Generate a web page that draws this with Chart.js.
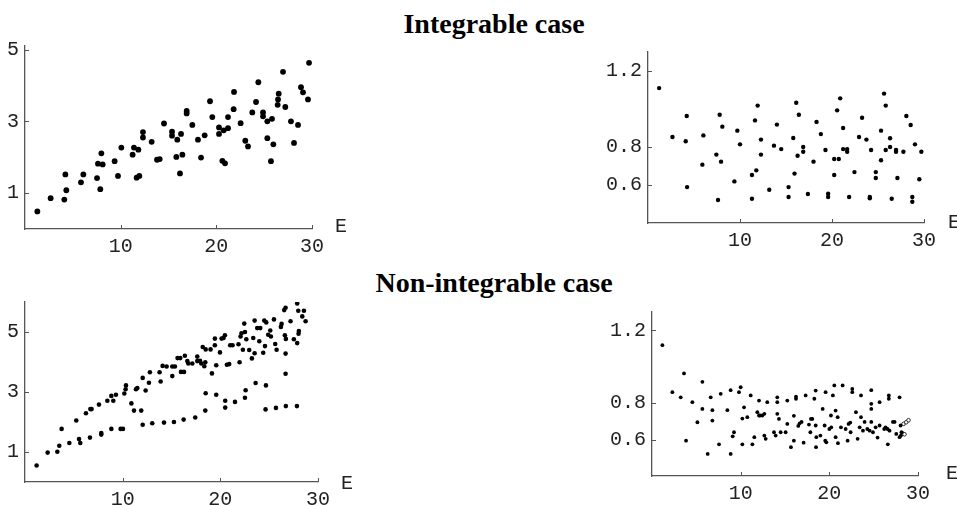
<!DOCTYPE html>
<html>
<head>
<meta charset="utf-8">
<script src="https://cdn.jsdelivr.net/npm/chart.js@4.4.1/dist/chart.umd.min.js"></script>
<style>
  html, body { margin: 0; padding: 0; background: #fff; width: 957px; height: 505px; overflow: hidden; position: relative; }
  canvas { position: absolute; }
  .title { position: absolute; left: 0; width: 988px; text-align: center; font: bold 28px "Liberation Serif", "Times New Roman", serif; line-height: 28px; color: #000; }
</style>
</head>
<body>
<div class="title" style="top:10px">Integrable case</div>
<div class="title" style="top:269px">Non-integrable case</div>
<canvas id="c-int-left"></canvas>
<canvas id="c-int-right"></canvas>
<canvas id="c-non-left"></canvas>
<canvas id="c-non-right"></canvas>
<script>
// axis ticks
const xTicks = [10, 20, 30];
const yTicksLeft = [1, 3, 5];
const yTicksRight = [0.6, 0.8, 1.2];

// Integrable case, left panel  [E, value]
const intLeft = [
  [1.29,0.49],[2.68,0.86],[4.11,0.82],[4.22,1.52],[4.32,1.08],[5.85,1.30],[6.10,1.52],[7.53,1.42],
  [7.63,1.82],[7.87,1.11],[7.98,2.11],[8.12,1.80],[9.37,1.89],[9.72,1.48],[10.07,2.27],[11.25,2.07],
  [11.39,2.27],[11.67,1.43],[11.85,2.21],[11.95,1.48],[12.33,2.70],[12.33,2.55],[13.24,2.43],[13.80,1.93],
  [14.08,1.95],[14.53,2.94],[15.37,2.71],[15.37,2.60],[15.82,2.01],[15.92,2.49],[16.20,1.55],[16.31,2.65],
  [16.45,2.07],[16.90,3.29],[16.90,3.22],[17.49,2.90],[18.08,2.49],[18.40,1.99],[18.78,2.61],[19.34,3.56],
  [19.58,3.12],[20.28,2.83],[20.28,2.65],[20.63,1.90],[20.77,2.75],[20.91,1.83],[21.22,2.81],[21.22,3.12],
  [21.81,3.34],[21.85,3.82],[22.54,2.95],[23.03,2.46],[23.31,2.30],[23.76,3.25],[24.15,3.54],[24.39,4.09],
  [24.88,3.25],[24.88,3.14],[25.33,3.00],[25.33,2.53],[25.71,1.89],[25.82,3.07],[25.96,2.36],[26.41,3.46],
  [26.45,3.61],[26.52,3.77],[26.97,4.38],[27.21,3.40],[27.80,3.00],[28.12,2.40],[28.54,2.90],[28.85,3.95],
  [29.06,3.81],[29.58,3.61],[29.69,4.63]
];

// Integrable case, right panel
const intRight = [
  [1.21,1.11],[2.66,0.853],[4.10,0.830],[4.21,0.963],[4.25,0.589],[5.91,0.707],[6.02,0.861],[7.43,0.760],
  [7.61,0.521],[7.79,0.970],[7.94,0.723],[8.08,0.907],[9.39,0.619],[9.71,0.886],[10.00,0.814],[11.30,0.528],
  [11.30,0.653],[11.63,0.940],[11.77,0.677],[11.92,1.018],[12.28,0.839],[12.28,0.760],[13.18,0.575],[13.69,0.807],
  [14.01,0.918],[14.48,0.789],[15.28,0.589],[15.28,0.537],[15.79,0.847],[15.93,0.660],[16.11,1.033],[16.26,0.754],
  [16.40,0.970],[16.87,0.800],[16.87,0.775],[17.38,0.553],[17.99,0.723],[18.32,0.932],[18.79,0.868],[19.29,0.784],
  [19.58,0.554],[19.58,0.537],[20.24,0.737],[20.24,0.653],[20.56,0.993],[20.74,0.737],[20.89,1.056],[21.21,0.900],
  [21.21,0.789],[21.65,0.789],[21.65,0.775],[21.86,0.537],[22.44,0.668],[22.94,0.853],[23.27,0.954],[23.74,0.839],
  [24.25,0.784],[24.11,0.537],[24.11,0.530],[24.76,0.668],[24.76,0.637],[25.33,0.886],[25.33,0.730],[25.66,1.081],
  [25.84,1.018],[25.84,0.784],[26.31,0.846],[26.31,0.800],[26.49,0.528],[26.96,0.784],[26.96,0.775],[27.11,0.637],
  [27.76,0.775],[28.08,0.963],[28.55,0.916],[28.73,0.537],[28.73,0.512],[29.02,0.814],[29.49,0.630],[29.71,0.775]
];

// Non-integrable case, left panel
const nonLeft = [
  [1.19,0.55],[2.32,0.98],[3.31,1.01],[3.51,1.21],[3.75,1.77],[4.54,1.30],[5.25,2.05],[5.53,1.43],
  [5.66,1.30],[6.24,2.29],[6.69,2.43],[6.82,2.43],[6.65,1.48],[7.57,2.58],[7.81,1.63],[7.81,1.58],
  [8.43,2.71],[8.84,2.87],[9.04,2.71],[8.84,1.77],[9.31,2.91],[9.79,1.77],[10.03,1.77],[10.17,2.95],
  [10.30,3.09],[10.34,3.22],[10.89,2.62],[11.16,2.38],[11.36,3.09],[11.50,3.13],[11.90,2.38],[12.05,1.91],
  [12.05,3.47],[12.35,3.05],[12.69,3.31],[12.79,3.66],[13.03,1.96],[13.78,3.66],[13.89,3.35],[14.09,3.87],
  [14.23,1.98],
  [14.50,3.85],[15.08,3.85],[15.35,3.85],[15.08,3.53],[15.97,3.67],[16.28,3.67],[15.62,4.13],[15.90,4.13],
  [16.37,4.21],[16.62,4.03],[16.72,3.95],[17.13,3.95],[17.64,4.18],[17.64,4.03],[17.92,4.04],[18.05,3.95],
  [18.36,3.86],[18.46,3.99],[18.20,4.50],[18.50,4.42],[19.00,4.42],[19.44,4.56],[19.44,4.78],[19.14,3.62],
  [19.58,3.89],[19.96,4.32],[20.13,4.78],[20.33,4.80],[20.47,4.89],[20.67,3.91],[20.91,3.93],[21.01,4.56],
  [21.25,4.56],[21.86,4.59],[21.97,3.99],[22.07,4.85],[22.17,4.96],[22.31,4.41],[22.45,5.28],[22.52,5.00],
  [22.66,4.76],[22.96,4.40],[23.23,4.12],[23.37,4.80],[23.51,4.29],[23.51,5.38],[23.78,5.13],[24.09,5.13],
  [23.99,4.69],[24.39,4.31],[24.57,4.53],[24.50,5.38],[24.70,5.32],[24.90,4.91],[25.18,4.85],[25.11,5.05],
  [25.49,5.42],[25.62,4.60],[25.76,4.41],[26.27,5.27],[26.20,5.17],[26.54,5.73],[26.68,5.81],[26.61,4.89],
  [26.71,4.77],[26.68,4.28],[26.68,3.61],[27.19,5.36],[27.53,4.76],[27.87,4.63],[27.87,5.95],[28.04,5.03],
  [28.01,4.94],[27.98,5.71],[28.39,5.52],[28.56,5.71],[28.73,5.36],
  [15.25,2.00],[16.24,2.08],[17.43,2.15],[18.46,2.38],[18.50,2.96],[19.58,2.91],[20.50,2.71],[20.50,2.48],
  [21.50,2.67],[22.52,2.81],[22.59,3.06],[23.61,3.30],[24.67,3.22],[24.63,2.42],[25.69,2.47],[26.71,2.53],
  [27.84,2.53]
];

// Non-integrable case, right panel
const nonRight = [
  [1.17,1.118],[2.30,0.860],[3.24,0.832],[3.61,0.963],[3.84,0.594],[4.55,0.805],[5.12,0.695],[5.68,0.917],
  [5.68,0.768],[6.28,0.521],[6.62,0.832],[6.81,0.761],[6.81,0.704],[7.56,0.574],[7.75,0.851],[8.50,0.761],
  [8.87,0.871],[8.87,0.521],[9.10,0.618],[9.25,0.640],[9.81,0.860],[10.00,0.887],[10.19,0.715],[10.19,0.574],
  [10.38,0.777],[10.75,0.723],[11.13,0.842],[11.32,0.574],[11.54,0.613],[11.88,0.750],[12.07,0.814],[12.07,0.732],
  [12.18,0.732],[12.44,0.732],[12.67,0.741],[12.67,0.622],[12.82,0.604],[13.00,0.805],[13.76,0.640],[13.95,0.622],
  [14.13,0.832],[14.13,0.805],[14.13,0.741],[14.32,0.713],[14.51,0.640],[15.07,0.640],[15.26,0.814],[15.26,0.686],
  [15.67,0.558],[16.00,0.730],[16.00,0.594],[16.24,0.835],[16.24,0.824],[16.50,0.675],[16.65,0.689],[16.87,0.697],
  [17.10,0.583],[17.33,0.842],[17.70,0.682],[17.86,0.640],[17.93,0.713],[18.08,0.713],[18.31,0.824],[18.46,0.869],
  [18.46,0.677],[18.50,0.558],[18.53,0.613],[18.99,0.622],[19.25,0.768],[19.47,0.677],[19.58,0.860],[19.54,0.594],
  [19.66,0.585],[20.00,0.658],[20.18,0.732],[20.22,0.667],[20.40,0.842],[20.56,0.897],[20.71,0.759],[20.71,0.613],
  [20.94,0.723],[20.97,0.580],[21.31,0.667],[21.50,0.897],[21.84,0.658],[22.06,0.594],[22.17,0.686],[22.36,0.693],
  [22.40,0.640],[22.59,0.878],[22.59,0.860],[23.00,0.750],[23.19,0.604],[23.42,0.667],[23.57,0.842],[23.57,0.723],
  [23.79,0.649],[23.98,0.697],[24.28,0.658],[24.54,0.649],[24.73,0.871],[24.73,0.796],[24.73,0.768],[24.73,0.697],
  [24.92,0.640],[25.22,0.667],[25.44,0.611],[25.67,0.805],[25.67,0.677],[26.19,0.658],[26.34,0.667],[26.57,0.658],
  [26.60,0.574],[26.71,0.842],[26.71,0.824],[26.79,0.649],[27.17,0.697],[27.36,0.697],[27.55,0.631],[27.92,0.832],
  [27.92,0.613],[28.03,0.677],[28.14,0.640],[28.07,0.622]
];
// the few open circles at the end of the right panel
const nonRightOpen = [[28.37,0.686],[28.67,0.695],[28.93,0.706],[28.26,0.634],[28.48,0.629]];

const axisColor = '#555';
const labelFont = { family: '"Liberation Mono", "DejaVu Sans Mono", monospace', size: 20 };

// inward tick marks and the "E" axis label
const axisDecor = {
  id: 'axisDecor',
  afterDraw(chart, args, opts) {
    const { ctx, chartArea: a, scales: { x, y } } = chart;
    ctx.save();
    ctx.strokeStyle = axisColor;
    ctx.lineWidth = 1;
    ctx.beginPath();
    x.ticks.forEach(t => {
      const px = Math.round(x.getPixelForValue(t.value)) + 0.5;
      ctx.moveTo(px, a.bottom);
      ctx.lineTo(px, a.bottom - 4);
    });
    y.ticks.forEach(t => {
      const py = Math.round(y.getPixelForValue(t.value)) + 0.5;
      ctx.moveTo(a.left, py);
      ctx.lineTo(a.left + 4, py);
    });
    ctx.stroke();
    ctx.fillStyle = '#222';
    ctx.font = '20px ' + labelFont.family;
    ctx.textBaseline = 'middle';
    ctx.fillText('E', a.right + opts.eDx, a.bottom + opts.eDy);
    ctx.restore();
  }
};

function toXY(arr) {
  return arr.map(p => ({ x: p[0], y: p[1] }));
}

function makePanel(id, box, yMin, yMax, yTicks, datasets, eDx, eDy) {
  const padL = Math.min(60, box.L), padT = 20, padR = 45, padB = 40;
  const cv = document.getElementById(id);
  cv.width = box.R - box.L + padL + padR;
  cv.height = box.B - box.T + padT + padB;
  cv.style.left = (box.L - padL) + 'px';
  cv.style.top = (box.T - padT) + 'px';

  return new Chart(cv.getContext('2d'), {
    type: 'scatter',
    data: { datasets: datasets },
    options: {
      responsive: false,
      animation: false,
      events: [],
      layout: { padding: { top: padT, right: padR, left: 0, bottom: 0 } },
      plugins: {
        legend: { display: false },
        tooltip: { enabled: false },
        axisDecor: { eDx: eDx, eDy: eDy }
      },
      scales: {
        x: {
          type: 'linear', min: 0, max: 30,
          afterBuildTicks: s => { s.ticks = xTicks.map(v => ({ value: v })); },
          afterFit: s => { s.height = padB; },
          grid: { drawOnChartArea: false, drawTicks: false },
          border: { display: true, color: axisColor, width: 1.3 },
          ticks: { autoSkip: false, maxRotation: 0, padding: 6, color: '#222', font: labelFont,
                   callback: v => String(v) }
        },
        y: {
          type: 'linear', min: yMin, max: yMax,
          afterBuildTicks: s => { s.ticks = yTicks.map(v => ({ value: v })); },
          afterFit: s => { s.width = padL; },
          grid: { drawOnChartArea: false, drawTicks: false },
          border: { display: true, color: axisColor, width: 1.3 },
          ticks: { autoSkip: false, padding: 6, color: '#222', font: labelFont,
                   callback: v => String(v) }
        }
      }
    },
    plugins: [axisDecor]
  });
}

function dots(arr, r) {
  return { data: toXY(arr), pointRadius: r, pointBackgroundColor: '#000', pointBorderWidth: 0, showLine: false };
}

makePanel('c-int-left', { L: 25, T: 46, R: 312, B: 229 }, 0, 5.1, yTicksLeft,
  [dots(intLeft, 2.9)], 23, -2);
makePanel('c-int-right', { L: 648, T: 52, R: 924, B: 223 }, 0.4, 1.3, yTicksRight,
  [dots(intRight, 2.2)], 24, 0);
makePanel('c-non-left', { L: 25, T: 302, R: 318, B: 482 }, 0, 6, yTicksLeft,
  [dots(nonLeft, 2.3)], 23, 2);
makePanel('c-non-right', { L: 652, T: 312, R: 918, B: 476 }, 0.4, 1.3, yTicksRight,
  [dots(nonRight, 1.9),
   { data: toXY(nonRightOpen), pointRadius: 1.8, pointBackgroundColor: '#fff', pointBorderColor: '#000',
     pointBorderWidth: 0.8, showLine: false }], 28, -2);
</script>
</body>
</html>
